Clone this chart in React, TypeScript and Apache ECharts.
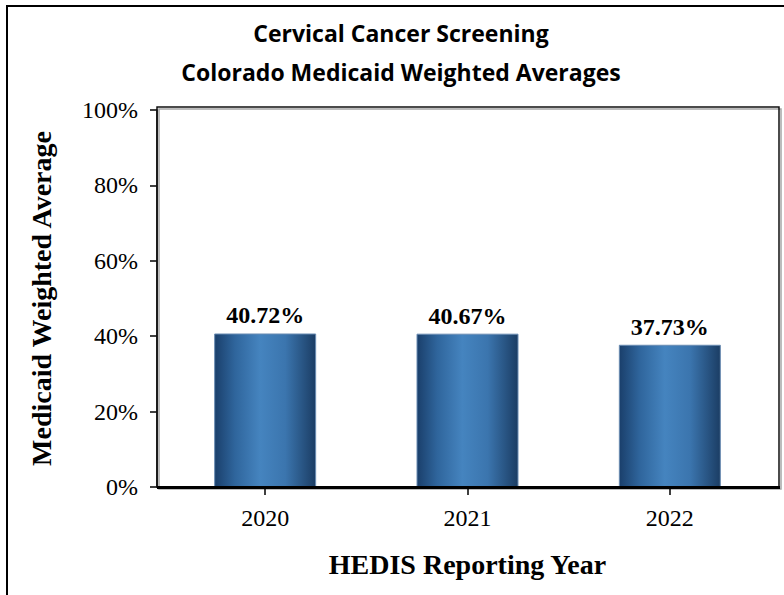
import React, { useEffect, useRef } from "react";
import * as echarts from "echarts";

const categories = ["2020", "2021", "2022"];
const weightedAverages = [40.72, 40.67, 37.73];
const titleLines = ["Cervical Cancer Screening", "Colorado Medicaid Weighted Averages"];
const yTickMin = 0;
const yTickMax = 100;
const yTickStep = 20;

export default function App() {
  const ref = useRef<HTMLDivElement>(null);
  useEffect(() => {
    if (!ref.current) return;
    const chart = echarts.init(ref.current, undefined, { renderer: "svg" });
    const serif = "'Liberation Serif', 'Times New Roman', serif";
    const barGradient = new echarts.graphic.LinearGradient(0, 0, 1, 0, [
      { offset: 0, color: "#1a3f6b" },
      { offset: 0.2, color: "#2f659c" },
      { offset: 0.45, color: "#4584bf" },
      { offset: 0.7, color: "#3b75ae" },
      { offset: 1, color: "#1b3d64" },
    ]);
    chart.setOption({
      animation: false,
      backgroundColor: "#ffffff",
      grid: { left: 164, right: 13, top: 110, bottom: 108, containLabel: false },
      graphic: [
        {
          type: "rect",
          shape: { x: 7, y: 6, width: 800, height: 620 },
          style: { fill: "none", stroke: "#000", lineWidth: 2 },
          silent: true,
        },
        {
          type: "text",
          x: 401,
          y: 33,
          style: {
            text: titleLines[0],
            font: "bold 23px 'Open Sans', sans-serif",
            fill: "#000",
            align: "center",
            verticalAlign: "middle",
          },
        },
        {
          type: "text",
          x: 401,
          y: 72,
          style: {
            text: titleLines[1],
            font: "bold 23px 'Open Sans', sans-serif",
            fill: "#000",
            align: "center",
            verticalAlign: "middle",
          },
        },
        {
          type: "rect",
          shape: { x: 157, y: 107, width: 622, height: 380 },
          style: {
            fill: "none",
            stroke: "#111",
            lineWidth: 1.5,
            shadowColor: "rgba(0,0,0,0.35)",
            shadowOffsetX: 2,
            shadowOffsetY: 2,
            shadowBlur: 1,
          },
          silent: true,
          z: 50,
        },
        {
          type: "line",
          shape: { x1: 157, y1: 487.5, x2: 780, y2: 487.5 },
          style: { stroke: "#000", lineWidth: 3 },
          silent: true,
          z: 100,
        },
      ],
      xAxis: {
        type: "category",
        data: categories,
        axisLine: { show: false },
        axisTick: { show: true, alignWithLabel: true, length: 8, lineStyle: { color: "#000", width: 1.5 } },
        axisLabel: { color: "#000", fontFamily: serif, fontSize: 24, margin: 19 },
        name: "HEDIS Reporting Year",
        nameLocation: "middle",
        nameGap: 63,
        nameTextStyle: { color: "#000", fontFamily: serif, fontWeight: "bold", fontSize: 28 },
      },
      yAxis: {
        type: "value",
        min: yTickMin,
        max: yTickMax,
        interval: yTickStep,
        offset: 7,
        axisLine: { show: true, lineStyle: { color: "#000", width: 1.5 } },
        axisTick: { show: true, length: 7, lineStyle: { color: "#000", width: 1.5 } },
        splitLine: { show: false },
        axisLabel: { color: "#000", fontFamily: serif, fontSize: 24, margin: 19, formatter: "{value}%" },
        name: "Medicaid Weighted Average",
        nameLocation: "middle",
        nameGap: 102,
        nameTextStyle: { color: "#000", fontFamily: serif, fontWeight: "bold", fontSize: 28 },
      },
      series: [
        {
          type: "bar",
          data: weightedAverages,
          barWidth: 102,
          itemStyle: { color: barGradient, borderColor: "#6a8cb3", borderWidth: 1 },
          label: {
            show: true,
            position: "top",
            distance: 6,
            formatter: (p: any) => p.value.toFixed(2) + "%",
            color: "#000",
            fontFamily: serif,
            fontWeight: "bold",
            fontSize: 24,
          },
        },
      ],
    });
    return () => chart.dispose();
  }, []);
  return (
    <div
      ref={ref}
      style={{ position: "fixed", left: 0, top: 0, width: 784, height: 595 }}
    />
  );
}
